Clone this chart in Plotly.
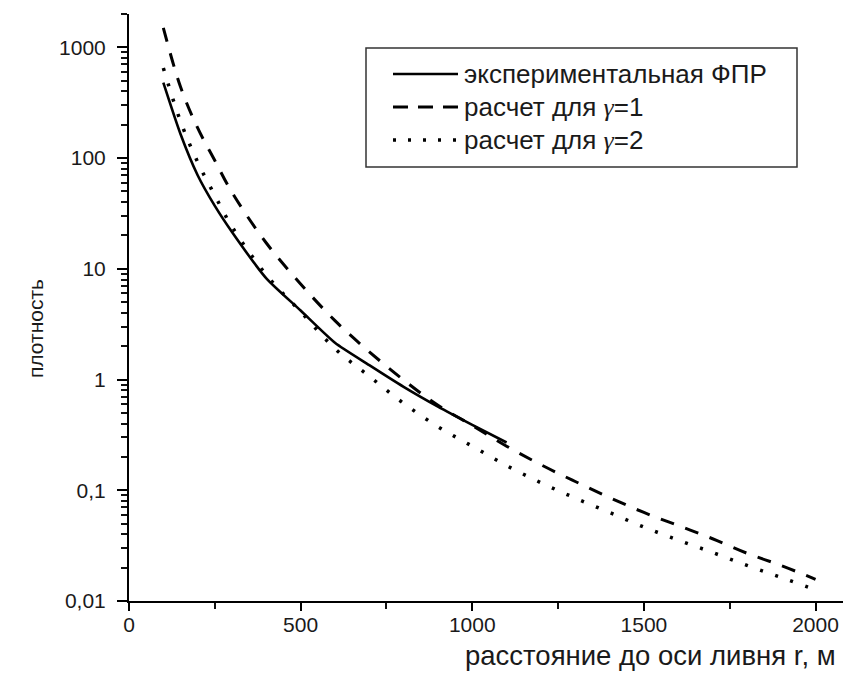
import plotly.graph_objects as go

# ---- data ----
r_exp = [100, 150, 200, 250, 300, 400, 500, 600, 700, 800, 900, 1000, 1100]
rho_exp = [480, 165, 70, 37, 21.5, 8.2, 4.2, 2.15, 1.35, 0.86, 0.57, 0.39, 0.27]

r_calc = [100, 150, 200, 250, 300, 400, 500, 600, 700, 800, 900, 1000, 1100,
          1200, 1300, 1400, 1500, 1600, 1700, 1800, 1900, 2000]
rho_g1 = [1500, 440, 187, 95, 49, 17.1, 7.3, 3.4, 1.78, 0.99, 0.585, 0.385, 0.25,
          0.17, 0.12, 0.086, 0.063, 0.048, 0.0365, 0.027, 0.0209, 0.0157]
rho_g2 = [650, 215, 92, 46, 24, 8.8, 4.1, 1.9, 1.07, 0.61, 0.375, 0.25, 0.167,
          0.117, 0.085, 0.063, 0.0465, 0.0355, 0.0274, 0.021, 0.0163, 0.0126]

x_range = [0, 2080]
y_range_log = [-2, 3.30105]

x_major = [0, 500, 1000, 1500, 2000]
x_minor = [250, 750, 1250, 1750]
y_major = [0.01, 0.1, 1, 10, 100, 1000]
y_major_text = ["0,01", "0,1", "1", "10", "100", "1000"]
y_minor = [m * 10 ** e for e in range(-2, 4) for m in range(2, 10) if m * 10 ** e <= 2000]

GAMMA = '<span style="font-family:Liberation Serif, serif"><i>γ</i></span>'
legend_labels = ["экспериментальная ФПР", "расчет для " + GAMMA + "=1", "расчет для " + GAMMA + "=2"]
x_title = "расстояние до оси ливня r, м"
y_title = "плотность"

# ---- layout geometry ----
W, H = 845, 677
ML, MR, MT, MB = 129, 2, 14, 76
PW, PH = W - ML - MR, H - MT - MB

def px(x):
    return (x - ML) / PW

def py(y):
    return (H - MB - y) / PH

FONT = "Liberation Sans, Arial, sans-serif"
TXT = "#1a1a1a"

x_all = sorted(x_major + x_minor)
x_all_text = [str(v) if v in x_major else "" for v in x_all]
y_all = sorted(y_major + y_minor)
y_all_text = [y_major_text[y_major.index(v)] if v in y_major else "" for v in y_all]

fig = go.Figure()
fig.add_trace(go.Scatter(x=r_exp, y=rho_exp, mode="lines", name="exp",
                         line=dict(color="black", width=2.6, shape="spline", smoothing=0.6),
                         showlegend=False))
fig.add_trace(go.Scatter(x=r_calc, y=rho_g1, mode="lines", name="g1",
                         line=dict(color="black", width=3, dash="14px,12px", shape="spline"),
                         showlegend=False))
fig.add_trace(go.Scatter(x=r_calc, y=rho_g2, mode="lines", name="g2",
                         xaxis="x2", yaxis="y2",
                         line=dict(color="black", width=3.5, dash="3px,13px", shape="spline"),
                         showlegend=False))

fig.update_layout(
    width=W, height=H,
    margin=dict(l=ML, r=MR, t=MT, b=MB),
    paper_bgcolor="white", plot_bgcolor="white",
    font=dict(family=FONT, color=TXT, size=21),
    showlegend=False,
    xaxis=dict(range=x_range, showgrid=False, zeroline=False,
               showline=True, linecolor="black", linewidth=2,
               ticks="outside", ticklen=6, tickwidth=2, tickcolor="#111111",
               tickmode="array", tickvals=x_all, ticktext=x_all_text,
               ticklabelstandoff=-2, tickfont=dict(size=21)),
    yaxis=dict(type="log", range=y_range_log, showgrid=False, zeroline=False,
               showline=True, linecolor="black", linewidth=2,
               ticks="outside", ticklen=6, tickwidth=2, tickcolor="#111111",
               tickmode="array", tickvals=y_all, ticktext=y_all_text,
               ticklabelstandoff=11, tickfont=dict(size=21)),
    xaxis2=dict(overlaying="x", anchor="y2", side="bottom", range=x_range,
                tickmode="array", tickvals=x_major, ticks="outside",
                ticklen=9, tickwidth=2, tickcolor="black",
                showticklabels=False, showline=False, showgrid=False, zeroline=False),
    yaxis2=dict(overlaying="y", anchor="x2", side="left", type="log", range=y_range_log,
                tickmode="array", tickvals=y_major, ticks="outside",
                ticklen=11, tickwidth=2, tickcolor="black",
                showticklabels=False, showline=False, showgrid=False, zeroline=False),
)

shapes = []
annotations = []
shapes.append(dict(type="rect", xref="paper", yref="paper",
                   x0=px(366), x1=px(797), y0=py(167), y1=py(48),
                   line=dict(color="#333333", width=1.5), fillcolor="white", layer="above"))
rows = [74, 107, 140]
dashes = ["solid", "15px,10px", "3px,12px"]
widths = [2.6, 3, 3.5]
for i, yy in enumerate(rows):
    shapes.append(dict(type="line", xref="paper", yref="paper",
                       x0=px(393), x1=px(458), y0=py(yy), y1=py(yy),
                       line=dict(color="black", width=widths[i], dash=dashes[i]),
                       layer="above"))
    annotations.append(dict(xref="paper", yref="paper", x=px(462), y=py(yy),
                            xanchor="left", yanchor="middle", showarrow=False,
                            text=legend_labels[i], font=dict(size=26, family=FONT, color=TXT)))

annotations.append(dict(xref="paper", yref="paper", x=px(838), y=py(655),
                        xanchor="right", yanchor="middle", showarrow=False,
                        text=x_title, font=dict(size=27.5, family=FONT, color=TXT)))
annotations.append(dict(xref="paper", yref="paper", x=px(35), y=py(329),
                        xanchor="center", yanchor="middle", showarrow=False, textangle=-90,
                        text=y_title, font=dict(size=21, family=FONT, color=TXT)))

fig.update_layout(shapes=shapes, annotations=annotations)
fig.write_html("out.html")
